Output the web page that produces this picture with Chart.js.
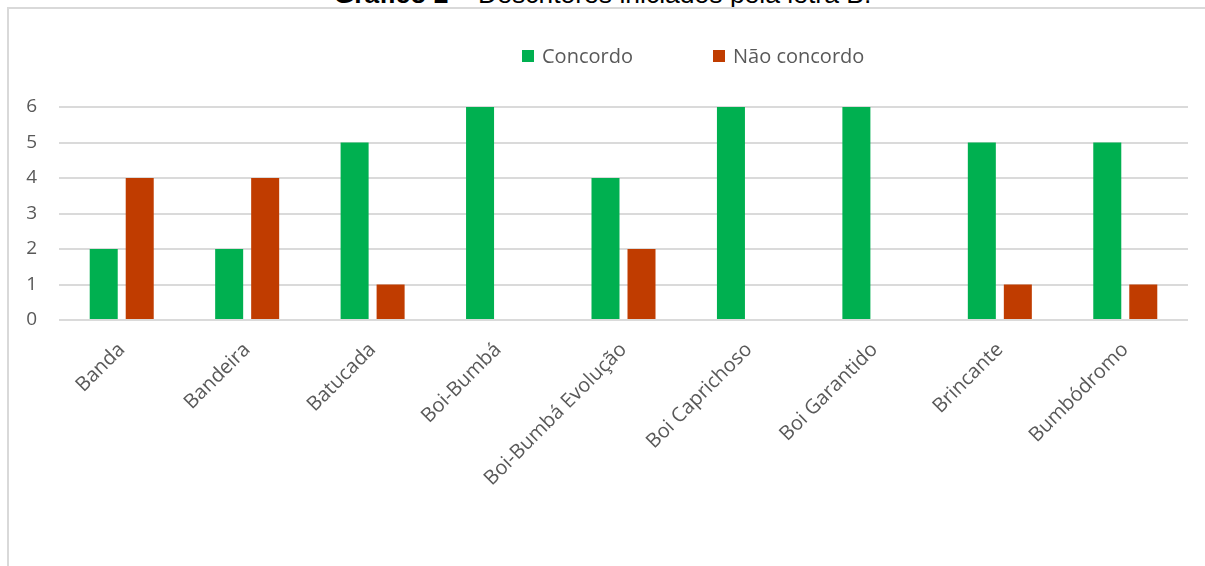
<!DOCTYPE html>
<html>
<head>
<meta charset="utf-8">
<script src="https://cdn.jsdelivr.net/npm/chart.js@4/dist/chart.umd.min.js"></script>
<style>
  html, body { margin: 0; padding: 0; background: #fff; overflow: hidden; }
  #title {
    position: absolute; left: 0; top: -19px; width: 1205px; text-align: center;
    font: 26.5px "Liberation Sans", Arial, sans-serif; line-height: 26.5px; color: #000; white-space: nowrap;
  }
  #frame {
    position: absolute; left: 7px; top: 7px; width: 1300px; height: 700px;
    border-left: 2px solid #d9d9d9; border-top: 2px solid #d9d9d9; background: #fff;
  }
  #wrap { position: absolute; left: 0; top: 0; width: 1205px; height: 566px; }
  #legend { position: absolute; top: 45px; left: 0; height: 22px; }
  .item { position: absolute; top: 0; display: flex; align-items: center; white-space: nowrap;
    font: 20px "Open Sans", sans-serif; color: #595959; line-height: 22px; }
  .box { width: 12px; height: 12px; margin-right: 8px; }
</style>
</head>
<body>
<div id="title"><b>Gráfico 2</b> – Descritores iniciados pela letra B.</div>
<div id="frame"></div>
<div id="wrap"><canvas id="grafico"></canvas></div>
<div id="legend"></div>

<script>
// dados
const categorias = ["Banda", "Bandeira", "Batucada", "Boi-Bumbá", "Boi-Bumbá Evolução",
    "Boi Caprichoso", "Boi Garantido", "Brincante", "Bumbódromo"];
const concordo = [2, 2, 5, 6, 4, 6, 6, 5, 5];
const naoConcordo = [4, 4, 1, 0, 2, 0, 0, 1, 1];
const ticksY = [0, 1, 2, 3, 4, 5, 6];

const CORES = {
    verde: "#00B050",
    vermelho: "#C03C00",
    grade: "#dadada",
    texto: "#595959"
};

const grafico = new Chart(document.getElementById("grafico"), {
    type: "bar",
    data: {
        labels: categorias,
        datasets: [
            { label: "Concordo", data: concordo, backgroundColor: CORES.verde },
            { label: "Não concordo", data: naoConcordo, backgroundColor: CORES.vermelho }
        ]
    },
    options: {
        responsive: true,
        maintainAspectRatio: false,
        animation: false,
        layout: { padding: { left: 26, right: 17, top: 107, bottom: 0 } },
        datasets: {
            bar: { categoryPercentage: 0.574, barPercentage: 0.778 }
        },
        scales: {
            x: {
                grid: { display: false },
                border: { display: false },
                ticks: {
                    color: CORES.texto,
                    font: { family: "Open Sans", size: 20 },
                    minRotation: 45,
                    maxRotation: 45,
                    padding: 10
                },
                afterFit: s => { s.height = 246; }
            },
            y: {
                min: 0,
                max: 6,
                afterBuildTicks: s => { s.ticks = ticksY.map(v => ({ value: v })); },
                grid: { color: CORES.grade, lineWidth: 2, drawTicks: false },
                border: { display: false },
                ticks: {
                    color: CORES.texto,
                    font: { family: "Open Sans", size: 19 },
                    padding: 22
                },
                afterFit: s => { s.width = 33; }
            }
        },
        plugins: {
            legend: { display: false },
            tooltip: { enabled: false }
        }
    }
});

// legenda em HTML, a partir dos datasets
const posLegenda = [522, 713];
const legenda = document.getElementById("legend");
grafico.data.datasets.forEach((ds, i) => {
    const el = document.createElement("div");
    el.className = "item";
    el.style.left = posLegenda[i] + "px";
    el.innerHTML = '<span class="box" style="background:' + ds.backgroundColor + '"></span>' + ds.label;
    legenda.appendChild(el);
});
</script>
</body>
</html>
